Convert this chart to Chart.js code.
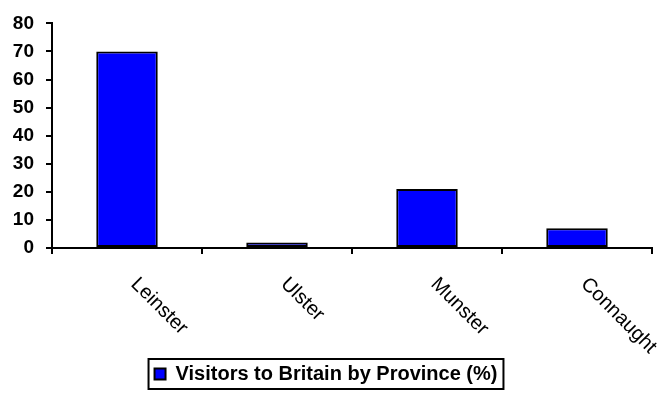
<!DOCTYPE html>
<html>
<head>
<meta charset="utf-8">
<script src="https://cdn.jsdelivr.net/npm/chart.js@4.4.1/dist/chart.umd.min.js"></script>
<style>
  body { margin: 0; background: #fff; }
  #wrap { width: 660px; height: 416px; }
</style>
</head>
<body>
<div id="wrap"><canvas id="myChart"></canvas></div>
<script>
// datos del grafico
const provinces = ['Leinster', 'Ulster', 'Munster', 'Connaught'];
const visitors = [70, 2, 21, 7];
const seriesName = 'Visitors to Britain by Province (%)';
const yTicks = [0, 10, 20, 30, 40, 50, 60, 70, 80];

const FONT = '"Liberation Sans", Arial, sans-serif';

// etiquetas del eje x giradas hacia abajo a la derecha
const slantLabels = {
  id: 'slantLabels',
  afterDraw(chart) {
    const c = chart.ctx;
    const x = chart.scales.x;
    c.save();
    c.font = '20px ' + FONT;
    c.fillStyle = '#000';
    c.textAlign = 'left';
    c.textBaseline = 'middle';
    provinces.forEach((p, i) => {
      c.save();
      c.translate(x.getPixelForValue(i) + 7, x.top + 33);
      c.rotate(Math.PI / 4);
      c.fillText(p, 0, 0);
      c.restore();
    });
    c.restore();
  }
};

// marco alrededor de la leyenda
const legendFrame = {
  id: 'legendFrame',
  afterDraw(chart) {
    const hb = chart.legend.legendHitBoxes[0];
    if (!hb) return;
    const c = chart.ctx;
    c.save();
    c.strokeStyle = '#000';
    c.lineWidth = 2;
    c.strokeRect(hb.left - 6, hb.top - 5, hb.width + 12, hb.height + 10);
    c.restore();
  }
};

const ctx = document.getElementById('myChart').getContext('2d');
const myChart = new Chart(ctx, {
  type: 'bar',
  data: {
    labels: provinces,
    datasets: [{
      label: seriesName,
      data: visitors,
      backgroundColor: '#0000ff',
      borderColor: '#000',
      borderWidth: 2,
      borderSkipped: false,
      barPercentage: 0.41,
      categoryPercentage: 1
    }]
  },
  options: {
    responsive: true,
    maintainAspectRatio: false,
    animation: false,
    layout: { padding: { top: 20, right: 8, bottom: 22, left: 0 } },
    plugins: {
      tooltip: { enabled: false },
      legend: {
        position: 'bottom',
        labels: {
          color: '#000',
          font: { family: FONT, size: 20, weight: 'bold' },
          boxWidth: 11,
          boxHeight: 11,
          padding: 8
        }
      }
    },
    scales: {
      x: {
        grid: { display: true, offset: true, drawOnChartArea: false, drawTicks: true, tickLength: 6, color: '#000', lineWidth: 2 },
        border: { display: true, color: '#000', width: 2 },
        ticks: { display: false },
        afterFit(scale) { scale.height = 108; }
      },
      y: {
        min: 0,
        max: 80,
        afterBuildTicks(scale) { scale.ticks = yTicks.map(v => ({ value: v })); },
        grid: { display: true, drawOnChartArea: false, drawTicks: true, tickLength: 6, color: '#000', lineWidth: 2 },
        border: { display: true, color: '#000', width: 2 },
        ticks: {
          color: '#000',
          padding: 12,
          font: { family: FONT, size: 19, weight: 'bold' }
        },
        afterFit(scale) { scale.width = 52; }
      }
    }
  },
  plugins: [slantLabels, legendFrame]
});
</script>
</body>
</html>
